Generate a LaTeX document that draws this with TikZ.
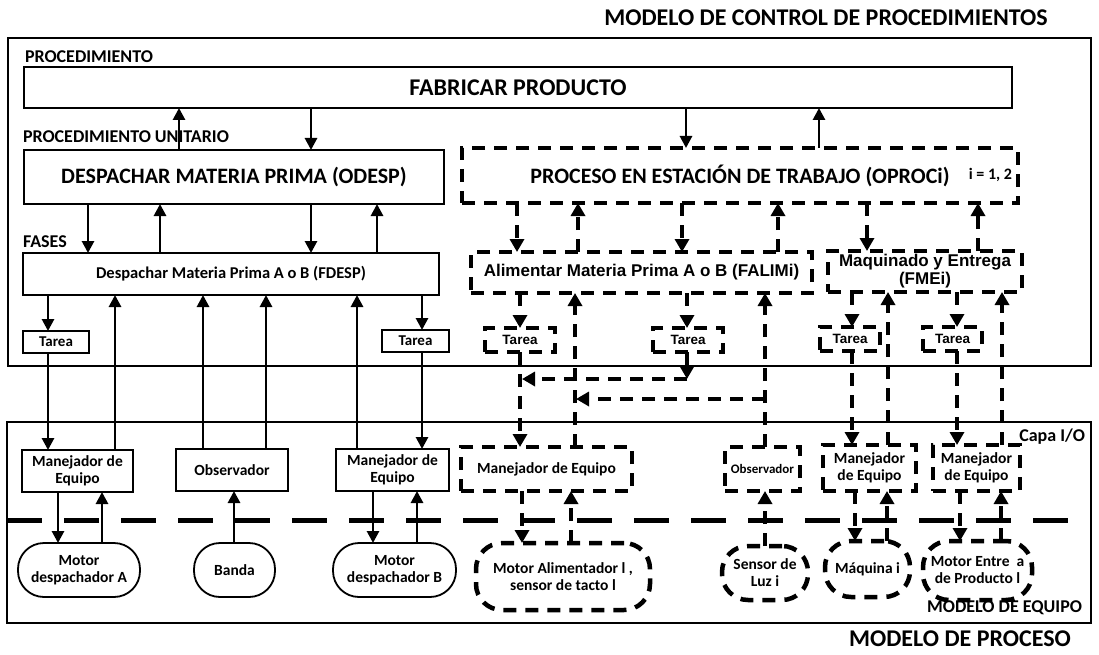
\documentclass[tikz,border=0pt]{standalone}
\usepackage{fontspec}
\setmainfont{Carlito}
\newfontfamily\arl{Liberation Sans}
\usetikzlibrary{arrows.meta}
\newcommand\fsz[2]{\fontsize{#1}{#2}\selectfont}
\begin{document}
\begin{tikzpicture}[x=1pt,y=-1pt,
  every node/.style={inner sep=0pt, outer sep=0pt, align=center},
  txt/.style={font=\bfseries\fsz{15.5}{17}},
  frame/.style={draw, line width=1.4pt},
  sbox/.style={draw, line width=1.8pt, txt},
  dpat/.style={line width=4.5pt, dash pattern=on 13pt off 9pt},
  dbox/.style={draw, dpat, txt},
  sell/.style={draw, line width=1.8pt, rounded corners=26pt, txt},
  dell/.style={draw, dpat, rounded corners=26pt, txt},
  arr/.style={line width=2.8pt, -{Triangle[length=12pt,width=12pt]}},
  darr/.style={dpat, -{Triangle[length=13pt,width=14pt]}},
  lbl/.style={anchor=west, font=\bfseries\fsz{18}{20}},
  big/.style={font=\bfseries\fsz{24}{26}},
]
\useasboundingbox (0,0) rectangle (1099,655);
% column positions
\foreach \x in {48,58,88,102,115,160,179,203,234,266,311,357,373,377,417,422,517,520,522,571,575,576,578,682,686,687,765,778,819,852,855,867,887,888,957,960,978,1001,1002}
  \coordinate (c\x) at (\x,0);

% frames
\node[frame, minimum width=1083, minimum height=328] (ctrl) at (549.5,202) {};
\node[frame, minimum width=1084, minimum height=201] (equip) at (549,522.5) {};
\node[big] (tctrl) at (826,18) {MODELO DE CONTROL DE PROCEDIMIENTOS};
\node[big] (tproc) at (960,639) {MODELO DE PROCESO};
\node[font=\bfseries\fsz{18}{20}, anchor=east] (tequip) at (1082,608) {MODELO DE EQUIPO};
\node[font=\bfseries\fsz{18}{20}, anchor=east] (capa) at (1085,437) {Capa I/O};

% level labels
\node[lbl] (lproc) at (25,57) {PROCEDIMIENTO};
\node[lbl] (lunit) at (23,137) {PROCEDIMIENTO UNITARIO};
\node[lbl] (lfase) at (23,242) {FASES};

% procedure level
\node[sbox, minimum width=988, minimum height=41, font=\bfseries\fsz{24}{26}] (fab) at (518,87.5) {FABRICAR PRODUCTO};
\node[sbox, minimum width=420, minimum height=54, font=\bfseries\fsz{22}{24}] (odesp) at (234,177) {DESPACHAR MATERIA PRIMA (ODESP)};
\node[dbox, minimum width=556, minimum height=55, font=\bfseries\fsz{22}{24}] (oproc) at (740,175.5) {PROCESO EN ESTACIÓN DE TRABAJO (OPROCi)};
\node[font=\bfseries\fsz{16}{18}, anchor=east] (irange) at (1012,175) {i = 1, 2};

% phases
\node[sbox, minimum width=416, minimum height=42, font=\bfseries\fsz{16.5}{18}] (fdesp) at (231,274) {Despachar Materia Prima A o B (FDESP)};
\node[dbox, minimum width=341, minimum height=41, font=\arl\bfseries\fsz{17}{18}] (falim) at (641.5,272.5) {Alimentar Materia Prima A o B (FALIMi)};
\node[dbox, minimum width=194, minimum height=41, font=\arl\bfseries\fsz{17}{18}] (fme) at (925,271.5) {Maquinado y Entrega\\(FMEi)};

% tasks
\node[sbox, minimum width=66, minimum height=22, font=\bfseries\fsz{15}{16}] (tareaA) at (56,342) {Tarea};
\node[sbox, minimum width=67, minimum height=22, font=\bfseries\fsz{15}{16}] (tareaB) at (415.5,341) {Tarea};
\node[dbox, minimum width=70, minimum height=24, font=\arl\bfseries\fsz{13.5}{15}] (tarea1) at (520,340) {Tarea};
\node[dbox, minimum width=70, minimum height=24, font=\arl\bfseries\fsz{13.5}{15}] (tarea2) at (688,340) {Tarea};
\node[dbox, minimum width=60, minimum height=24, font=\arl\bfseries\fsz{13.5}{15}] (tarea3) at (850,339) {Tarea};
\node[dbox, minimum width=59, minimum height=24, font=\arl\bfseries\fsz{13.5}{15}] (tarea4) at (952.5,339) {Tarea};

% I/O layer
\node[sbox, minimum width=111, minimum height=42] (manA) at (77.5,471) {Manejador de\\Equipo};
\node[sbox, minimum width=112, minimum height=42] (obs) at (232,470) {Observador};
\node[sbox, minimum width=113, minimum height=42] (manB) at (392.5,470) {Manejador de\\Equipo};
\node[dbox, minimum width=171, minimum height=44] (manF) at (546.5,469) {Manejador de Equipo};
\node[dbox, minimum width=75, minimum height=44, font=\bfseries\fsz{13}{14}] (obsF) at (762.5,469) {Observador};
\node[dbox, minimum width=93, minimum height=46] (manM1) at (869.5,468) {Manejador\\de Equipo};
\node[dbox, minimum width=87, minimum height=46] (manM2) at (976.5,468) {Manejador\\de Equipo};

% equipment
\node[sell, minimum width=122, minimum height=54] (motA) at (79,570) {Motor\\despachador A};
\node[sell, minimum width=81, minimum height=54] (banda) at (234.5,570) {Banda};
\node[sell, minimum width=123, minimum height=54] (motB) at (394.5,570) {Motor\\despachador B};
\node[dell, minimum width=174, minimum height=67] (motAl) at (563,576.5) {Motor Alimentador l ,\\sensor de tacto l};
\node[dell, minimum width=86, minimum height=54] (sensor) at (765,573) {Sensor de\\Luz i};
\node[dell, minimum width=85, minimum height=56] (maq) at (867.5,569) {Máquina i};
\node[dell, minimum width=109, minimum height=59] (motE) at (977.5,570.5) {Motor Entre\ \ a\\de Producto l};

% divider between I/O layer and equipment
\coordinate (dl) at (7,520);
\coordinate (dr) at (1091,520);
\draw[line width=5pt, dash pattern=on 35pt off 22pt] (dl) -- (dr);

% solid connectors
\draw[arr] (odesp.north -| c179) -- (fab.south -| c179);
\draw[arr] (fab.south -| c311) -- (odesp.north -| c311);
\draw[arr] (fab.south -| c686) -- (oproc.north -| c686);
\draw[arr] (oproc.north -| c819) -- (fab.south -| c819);
\draw[arr] (odesp.south -| c88) -- (fdesp.north -| c88);
\draw[arr] (fdesp.north -| c160) -- (odesp.south -| c160);
\draw[arr] (odesp.south -| c311) -- (fdesp.north -| c311);
\draw[arr] (fdesp.north -| c377) -- (odesp.south -| c377);
\draw[arr] (fdesp.south -| c48) -- (tareaA.north -| c48);
\draw[arr] (fdesp.south -| c422) -- (tareaB.north -| c422);
\draw[arr] (tareaA.south -| c48) -- (manA.north -| c48);
\draw[arr] (manA.north -| c115) -- (fdesp.south -| c115);
\draw[arr] (obs.north -| c203) -- (fdesp.south -| c203);
\draw[arr] (obs.north -| c266) -- (fdesp.south -| c266);
\draw[arr] (manB.north -| c357) -- (fdesp.south -| c357);
\draw[arr] (tareaB.south -| c422) -- (manB.north -| c422);
\draw[arr] (manA.south -| c58) -- (motA.north -| c58);
\draw[arr] (motA.north -| c102) -- (manA.south -| c102);
\draw[arr] (banda.north -| c234) -- (obs.south -| c234);
\draw[arr] (manB.south -| c373) -- (motB.north -| c373);
\draw[arr] (motB.north -| c417) -- (manB.south -| c417);

% dashed connectors
\draw[darr] (oproc.south -| c517) -- (falim.north -| c517);
\draw[darr] (falim.north -| c578) -- (oproc.south -| c578);
\draw[darr] (oproc.south -| c682) -- (falim.north -| c682);
\draw[darr] (falim.north -| c778) -- (oproc.south -| c778);
\draw[darr] (oproc.south -| c867) -- (fme.north -| c867);
\draw[darr] (fme.north -| c978) -- (oproc.south -| c978);
\draw[darr] (falim.south -| c520) -- (tarea1.north -| c520);
\draw[darr] (falim.south -| c687) -- (tarea2.north -| c687);
\draw[darr] (manF.north -| c575) -- (falim.south -| c575);
\draw[darr] (obsF.north -| c765) -- (falim.south -| c765);
\draw[darr] (fme.south -| c852) -- (tarea3.north -| c852);
\draw[darr] (fme.south -| c957) -- (tarea4.north -| c957);
\draw[darr] (manM1.north -| c888) -- (fme.south -| c888);
\draw[darr] (manM2.north -| c1002) -- (fme.south -| c1002);
\draw[darr] (tarea1.south -| c520) -- (manF.north -| c520);
\coordinate (k1) at (687,379);
\coordinate (k2) at (765,399);
\draw[darr] (tarea2.south -| c687) -- (k1);
\draw[darr] (k1) -- (c522 |- k1);
\draw[darr] (k2) -- (c576 |- k2);
\draw[darr] (tarea3.south -| c852) -- (manM1.north -| c852);
\draw[darr] (tarea4.south -| c957) -- (manM2.north -| c957);
\draw[darr] (manF.south -| c522) -- (motAl.north -| c522);
\draw[darr] (motAl.north -| c571) -- (manF.south -| c571);
\draw[darr] (sensor.north -| c765) -- (obsF.south -| c765);
\draw[darr] (manM1.south -| c855) -- (maq.north -| c855);
\draw[darr] (maq.north -| c887) -- (manM1.south -| c887);
\draw[darr] (manM2.south -| c960) -- (motE.north -| c960);
\draw[darr] (motE.north -| c1001) -- (manM2.south -| c1001);
\end{tikzpicture}
\end{document}
